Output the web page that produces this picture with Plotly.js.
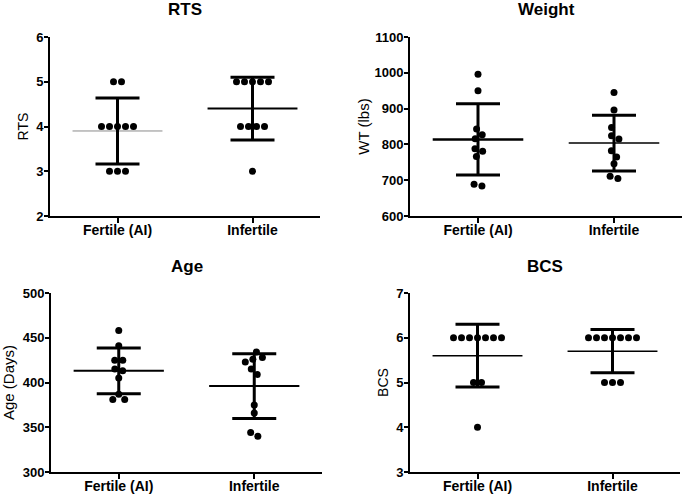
<!DOCTYPE html>
<html>
<head>
<meta charset="utf-8">
<script src="https://cdn.plot.ly/plotly-3.0.1.min.js"></script>
<style>
  html, body { margin: 0; padding: 0; background: #fff; }
  #chart { width: 685px; height: 496px; }
</style>
</head>
<body>
<div id="chart"></div>
<script>
const categories = ['Fertile (AI)', 'Infertile'];

const rtsFertile = [5, 5, 4, 4, 4, 4, 4, 3, 3, 3];
const rtsInfertile = [5, 5, 5, 5, 5, 4, 4, 4, 4, 3];
const wtFertile = [996, 950, 843, 827, 816, 788, 781, 766, 689, 684];
const wtInfertile = [945, 896, 847, 824, 815, 782, 765, 746, 711, 705];
const ageFertile = [458, 441, 425, 425, 415, 413, 405, 387, 381, 381];
const ageInfertile = [434, 428, 426, 423, 415, 409, 375, 366, 344, 340];
const bcsFertile = [6, 6, 6, 6, 6, 6, 6, 5, 5, 4];
const bcsInfertile = [6, 6, 6, 6, 6, 6, 6, 5, 5, 5];

window.onload = () => {
    const W = 685, H = 496;
    const plotH = 179, unitPx = 135;
    const dotGap = 8;

    const mean = (a) => a.reduce((s, v) => s + v, 0) / a.length;
    const sd = (a) => {
        const m = mean(a);
        return Math.sqrt(a.reduce((s, v) => s + (v - m) ** 2, 0) / (a.length - 1));
    };

    // scatter-dot spread: greedy swarm in pixels, then centre each touching cluster
    const swarm = (values, range) => {
        const pxY = plotH / (range[1] - range[0]);
        const order = values.map((v, i) => i).sort((a, b) => values[b] - values[a]);
        const placed = [];
        for (const i of order) {
            const y = values[i] * pxY;
            const spans = placed
                .filter((p) => Math.abs(p.y - y) < dotGap)
                .map((p) => {
                    const dx = Math.sqrt(dotGap * dotGap - (p.y - y) ** 2);
                    return [p.x - dx, p.x + dx];
                });
            const cands = [0];
            spans.forEach(([a, b]) => cands.push(a, b));
            cands.sort((a, b) => (Math.abs(a) - Math.abs(b)) || (b - a));
            const x = cands.find((c) => spans.every(([a, b]) => c <= a + 1e-6 || c >= b - 1e-6));
            placed.push({ i, x, y });
        }
        const parent = placed.map((p, k) => k);
        const find = (k) => (parent[k] === k ? k : (parent[k] = find(parent[k])));
        for (let a = 0; a < placed.length; a++) {
            for (let b = a + 1; b < placed.length; b++) {
                const d = Math.hypot(placed[a].x - placed[b].x, placed[a].y - placed[b].y);
                if (d < dotGap + 0.5) parent[find(a)] = find(b);
            }
        }
        const groups = {};
        placed.forEach((p, k) => { (groups[find(k)] = groups[find(k)] || []).push(p); });
        const xs = new Array(values.length);
        Object.values(groups).forEach((g) => {
            const shift = mean(g.map((p) => p.x));
            g.forEach((p) => { xs[p.i] = (p.x - shift) / unitPx; });
        });
        return xs;
    };

    const panels = [
        { title: 'RTS', ytitle: 'RTS', ysize: 14, standoff: 4, groups: [rtsFertile, rtsInfertile], range: [2, 6], dtick: 1,
          xdom: [50, 320], ydom: [37, 216], meanLine: [{ color: '#8a8a8a', width: 1 }, { color: '#000', width: 2 }] },
        { title: 'Weight', ytitle: 'WT (lbs)', ysize: 15, standoff: 1, groups: [wtFertile, wtInfertile], range: [600, 1100], dtick: 100,
          xdom: [410, 682], ydom: [37, 216], meanLine: [{ color: '#000', width: 2.5 }, { color: '#000', width: 1.5 }] },
        { title: 'Age', ytitle: 'Age (Days)', ysize: 15, standoff: 9, groups: [ageFertile, ageInfertile], range: [300, 500], dtick: 50,
          xdom: [51, 322], ydom: [293, 472], meanLine: [{ color: '#000', width: 2 }, { color: '#000', width: 2 }] },
        { title: 'BCS', ytitle: 'BCS', ysize: 14, standoff: 4, groups: [bcsFertile, bcsInfertile], range: [3, 7], dtick: 1,
          xdom: [410, 680], ydom: [293, 472], meanLine: [{ color: '#000', width: 1.5 }, { color: '#000', width: 1.5 }] }
    ];

    const font = 'Arial, "Liberation Sans", sans-serif';
    const traces = [];
    const layout = {
        width: W,
        height: H,
        margin: { l: 0, r: 0, t: 0, b: 0 },
        paper_bgcolor: '#fff',
        plot_bgcolor: '#fff',
        showlegend: false,
        hovermode: false,
        font: { family: font, color: '#000' },
        annotations: []
    };

    panels.forEach((p, n) => {
        const xa = n === 0 ? 'x' : 'x' + (n + 1);
        const ya = n === 0 ? 'y' : 'y' + (n + 1);
        const xKey = n === 0 ? 'xaxis' : 'xaxis' + (n + 1);
        const yKey = n === 0 ? 'yaxis' : 'yaxis' + (n + 1);
        const xd = [p.xdom[0] / W, p.xdom[1] / W];
        const yd = [1 - p.ydom[1] / H, 1 - p.ydom[0] / H];

        p.groups.forEach((vals, c) => {
            const m = mean(vals);
            const s = sd(vals);
            traces.push({
                x: [c - 0.333, c + 0.333], y: [m, m], xaxis: xa, yaxis: ya,
                mode: 'lines', line: p.meanLine[c]
            });
            traces.push({
                x: [c], y: [m], xaxis: xa, yaxis: ya, mode: 'markers',
                marker: { size: 1, opacity: 0 },
                error_y: { type: 'data', array: [s], visible: true, color: '#000', thickness: 3, width: 22 }
            });
            traces.push({
                x: swarm(vals, p.range).map((o) => c + o), y: vals, xaxis: xa, yaxis: ya,
                mode: 'markers', marker: { size: 7, color: '#000' }
            });
        });

        layout[xKey] = {
            domain: xd, anchor: ya, range: [-0.5, 1.5], fixedrange: true,
            tickmode: 'array', tickvals: [0, 1], ticktext: categories,
            ticks: 'outside', ticklen: 5, tickwidth: 2, tickcolor: '#000',
            ticklabelstandoff: -5,
            showline: true, linewidth: 2, linecolor: '#000',
            showgrid: false, zeroline: false,
            tickfont: { family: font, size: 14, weight: 'bold', color: '#000' }
        };
        layout[yKey] = {
            domain: yd, anchor: xa, range: p.range, dtick: p.dtick, fixedrange: true,
            ticks: 'outside', ticklen: 4, tickwidth: 2, tickcolor: '#000',
            ticklabelstandoff: -2,
            showline: true, linewidth: 2, linecolor: '#000',
            showgrid: false, zeroline: false,
            tickfont: { family: font, size: 13, weight: 'bold', color: '#000' },
            title: { text: p.ytitle, standoff: p.standoff, font: { family: font, size: p.ysize, color: '#000' } }
        };
        layout.annotations.push({
            text: p.title, xref: 'paper', yref: 'paper',
            x: (xd[0] + xd[1]) / 2, y: 1 - (p.ydom[0] - 27) / H,
            xanchor: 'center', yanchor: 'middle', showarrow: false,
            font: { family: font, size: 17, weight: 'bold', color: '#000' }
        });
    });

    Plotly.newPlot('chart', traces, layout, { staticPlot: true, displayModeBar: false });
};
</script>
</body>
</html>
